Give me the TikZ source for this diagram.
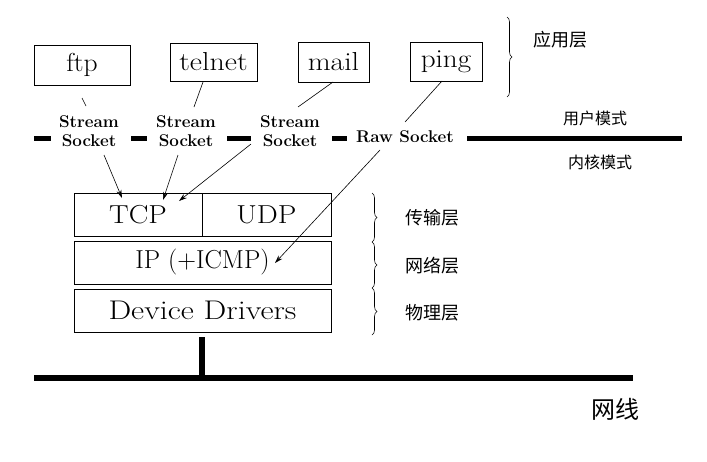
\documentclass[tikz,border=0pt]{standalone}
\usepackage{fontspec}
\newfontfamily\cjk{Noto Sans CJK SC}
\usetikzlibrary{decorations.pathreplacing,arrows.meta}
\newcommand\sx[2]{\scalebox{#1}[1]{#2}}
\begin{document}
\begin{tikzpicture}[x=1pt,y=-1pt,
  box/.style={draw,line width=0.8pt,inner sep=0pt,font=\fontsize{26}{30}\selectfont},
  sock/.style={font=\fontsize{17}{19}\selectfont\bfseries,align=center,inner sep=0pt},
  cn/.style={font=\cjk\fontsize{18}{20}\selectfont,inner sep=0pt},
  cnsmall/.style={font=\cjk\fontsize{16}{18}\selectfont,inner sep=0pt},
  thinline/.style={line width=0.6pt},
  arr/.style={thinline,-{Stealth[length=8pt,width=5pt]}},
  bus/.style={line width=5pt},
  wire/.style={line width=6pt},
  brc/.style={decorate,decoration={brace,amplitude=5pt},line width=0.6pt}]
\useasboundingbox (0,0) rectangle (707,461);

% application boxes
\node[box,minimum width=96pt,minimum height=40pt] (ftp) at (82,65) {\sx{1.06}{ftp}};
\node[box,minimum width=87pt,minimum height=38pt] (telnet) at (213.5,62) {\sx{1.15}{telnet}};
\node[box,minimum width=71pt,minimum height=40pt] (mail) at (333.5,62) {\sx{1.14}{mail}};
\node[box,minimum width=72pt,minimum height=39pt] (ping) at (446,61.5) {\sx{1.12}{ping}};

% socket labels
\node[sock] (ss1) at (89,131.5) {Stream\\Socket};
\node[sock] (ss2) at (186,131.5) {Stream\\Socket};
\node[sock] (ss3) at (290,131.5) {Stream\\Socket};
\node[sock] (raw) at (405,137) {Raw Socket};

% kernel boxes
\node[box,minimum width=128pt,minimum height=43pt] (tcp) at (138,214.5) {\sx{1.13}{TCP}};
\node[box,minimum width=129pt,minimum height=43pt] (udp) at (266.5,214.5) {\sx{1.14}{UDP}};
\node[box,minimum width=257pt,minimum height=43pt] (ip) at (202.5,262.5) {IP (+ICMP)};
\node[box,minimum width=257pt,minimum height=43pt] (dev) at (202.5,310.5) {\fontsize{27}{30}\selectfont\sx{1.19}{Device Drivers}};

% user/kernel boundary
\draw[bus] (34,138) -- (51,138);
\draw[bus] (131,138) -- (147,138);
\draw[bus] (227,138) -- (251,138);
\draw[bus] (332,138) -- (347,138);
\draw[bus] (467,138) -- (682,138);

% connectors from applications to sockets
\coordinate (f1) at (82,98);  \coordinate (f2) at (86,106);
\coordinate (t1) at (203,82); \coordinate (t2) at (194,107);
\coordinate (m1) at (333,82); \coordinate (m2) at (298,107);
\coordinate (p1) at (442,81); \coordinate (p2) at (405,122);
\draw[thinline] (f1) -- (f2);
\draw[thinline] (t1) -- (t2);
\draw[thinline] (m1) -- (m2);
\draw[thinline] (p1) -- (p2);

% arrows from sockets to protocols
\coordinate (a1) at (104,155); \coordinate (b1) at (122,198);
\coordinate (a2) at (178,155); \coordinate (b2) at (163,200);
\coordinate (a3) at (251,144); \coordinate (b3) at (179,201);
\coordinate (a4) at (380,150); \coordinate (b4) at (275,263);
\draw[arr] (a1) -- (b1);
\draw[arr] (a2) -- (b2);
\draw[arr] (a3) -- (b3);
\draw[arr] (a4) -- (b4);

% network wire
\draw[wire] (202,337) -- (202,376);
\draw[wire] (34,378) -- (633,378);

% braces
\draw[brc] (507,17) -- (507,97);
\draw[brc] (372,193) -- (372,242);
\draw[brc] (372,242) -- (372,288);
\draw[brc] (372,288) -- (372,335);

% labels
\node[cn] (app) at (560,40) {应用层};
\node[cnsmall] (user) at (595,118) {用户模式};
\node[cnsmall] (kern) at (600,162) {内核模式};
\node[cn] (trans) at (432,218) {传输层};
\node[cn] (net) at (432,266) {网络层};
\node[cn] (phy) at (432,313) {物理层};
\node[font=\cjk\fontsize{24}{26}\selectfont,inner sep=0pt] (wl) at (615,409) {网线};
\end{tikzpicture}
\end{document}
